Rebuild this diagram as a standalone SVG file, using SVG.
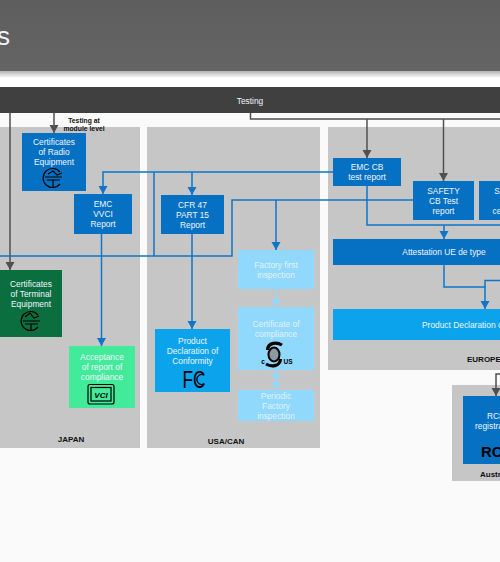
<svg xmlns="http://www.w3.org/2000/svg" width="500" height="562" viewBox="0 0 500 562">
<style>
text{font-family:"Liberation Sans",Arial,sans-serif;font-size:8.4px;fill:#eef6ff;text-anchor:middle}
.lb{font-size:8px;font-weight:bold;fill:#111}
.pale{fill:#e0f3ff}
.blue{fill:none;stroke:#0f75c8;stroke-width:1.5}
.gray{fill:none;stroke:#505050;stroke-width:1.5}
.lite{fill:none;stroke:#90d8fc;stroke-width:1.5}
.ic{fill:none;stroke:#000;stroke-width:1.2}
.mark{fill:#000;font-weight:bold}
</style>
<defs>
<linearGradient id="hd" x1="0" y1="0" x2="0" y2="1"><stop offset="0" stop-color="#5e5e5e"/><stop offset="1" stop-color="#646464"/></linearGradient>
<linearGradient id="sh" x1="0" y1="0" x2="0" y2="1"><stop offset="0" stop-color="#b0b0b0"/><stop offset="1" stop-color="#fff"/></linearGradient>
<marker id="ab" markerWidth="10" markerHeight="10" refX="9" refY="5" orient="auto" markerUnits="userSpaceOnUse"><path d="M1 .5L9 5L1 9.500Z" fill="#0f75c8"/></marker>
<marker id="ag" markerWidth="10" markerHeight="10" refX="9" refY="5" orient="auto" markerUnits="userSpaceOnUse"><path d="M1 .5L9 5L1 9.500Z" fill="#505050"/></marker>
<marker id="al" markerWidth="10" markerHeight="10" refX="9" refY="5" orient="auto-start-reverse" markerUnits="userSpaceOnUse"><path d="M1 .5L9 5L1 9.500Z" fill="#90d8fc"/></marker>
</defs>
<rect width="500" height="562" fill="#fafafa"/>
<rect y="72" width="500" height="15" fill="#fff"/>
<rect y="71" width="500" height="7" fill="url(#sh)"/>
<rect width="500" height="71" fill="url(#hd)"/>
<text x="-3" y="45" style="font-size:26px;text-anchor:start">s</text>
<g id="panels">
<rect x="0" y="127" width="140" height="321" fill="#c6c6c6"/>
<rect x="147" y="127" width="173" height="321" fill="#c6c6c6"/>
<rect x="328" y="127" width="172" height="243" fill="#c6c6c6"/>
<rect x="452" y="385" width="48" height="96" fill="#c6c6c6"/>
</g>
<g id="testing"><rect y="87" width="500" height="26" fill="#404040"/><text x="250" y="104">Testing</text></g>
<text class="lb" x="84" y="123" style="font-size:6.8px">Testing at</text>
<text class="lb" x="84" y="131" style="font-size:6.8px">module level</text>
<text class="lb" x="71" y="442">JAPAN</text>
<text class="lb" x="226" y="444">USA/CAN</text>
<text class="lb" x="467" y="362" style="text-anchor:start">EUROPE</text>
<text class="lb" x="480" y="477" style="text-anchor:start">Australia</text>
<g id="connectors">
<path class="gray" d="M10 113V270" marker-end="url(#ag)"/>
<path class="gray" d="M54 113V133" marker-end="url(#ag)"/>
<path class="gray" d="M250.500 113V119H500"/>
<path class="gray" d="M367 119V158" marker-end="url(#ag)"/>
<path class="gray" d="M443.500 119V181" marker-end="url(#ag)"/>
<path class="blue" d="M333 172H103V194" marker-end="url(#ab)"/>
<path class="blue" d="M192 172V195" marker-end="url(#ab)"/>
<path class="blue" d="M154 172V256"/>
<path class="blue" d="M0 256H232V200H413"/>
<path class="blue" d="M276 200V250" marker-end="url(#ab)"/>
<path class="blue" d="M101.500 234V346" marker-end="url(#ab)"/>
<path class="blue" d="M192 234V329" marker-end="url(#ab)"/>
<path class="blue" d="M367 186V225H500"/>
<path class="blue" d="M444 225V239" marker-end="url(#ab)"/>
<path class="blue" d="M444 265V287H485V309" marker-end="url(#ab)"/>
<path class="blue" d="M485 287V280.500H500"/>
<path class="lite" d="M276 289V307" marker-end="url(#al)"/>
<path class="lite" d="M276 370V390" marker-start="url(#al)" marker-end="url(#al)"/>
<path class="gray" d="M500 374H496V396" marker-end="url(#ag)"/>
</g>
<g id="cert-radio"><rect x="22" y="133" width="64" height="58" fill="#0670c2"/><text x="54" y="145">Certificates</text><text x="54" y="155">of Radio</text><text x="54" y="165">Equipment</text><path class="ic" d="M60 172A9.500 9.500 0 1 0 60 184"/><path class="ic" d="M45 177H62M47 180H60M53 180V187M48 174L53 171L57 175L62 173"/></g>
<g id="emc-vvci"><rect x="74" y="194" width="58" height="40" fill="#0670c2"/><text x="103" y="207">EMC</text><text x="103" y="217">VVCI</text><text x="103" y="227">Report</text></g>
<g id="cfr"><rect x="161" y="195" width="63" height="39" fill="#0670c2"/><text x="192.500" y="208">CFR 47</text><text x="192.500" y="218">PART 15</text><text x="192.500" y="228">Report</text></g>
<g id="cert-term"><rect x="0" y="270" width="62" height="67" fill="#0b6e3e"/><text x="31" y="287">Certificates</text><text x="31" y="297">of Terminal</text><text x="31" y="307">Equipment</text><path class="ic" d="M38 315A9.500 9.500 0 1 0 38 327"/><path class="ic" d="M23 321H40M25 324H38M31 324V330M25 317L30 313L34 318L39 316"/></g>
<g id="acceptance"><rect x="69" y="346" width="66" height="62" fill="#42ea9a"/><text x="102" y="360">Acceptance</text><text x="102" y="370">of report of</text><text x="102" y="380">compliance</text><rect x="88" y="384.500" width="26" height="19.500" rx="2" class="ic"/><rect x="91" y="387.500" width="20" height="13.500" class="ic"/><text class="mark" x="101" y="398" style="font-size:8px;font-style:italic">VCI</text></g>
<g id="pdoc"><rect x="155" y="329" width="75" height="63" fill="#0ba3ec"/><text x="192.500" y="344">Product</text><text x="192.500" y="354">Declaration of</text><text x="192.500" y="364">Conformity</text><text x="194" y="388" textLength="23" lengthAdjust="spacingAndGlyphs" style="fill:#000;font-size:23px">FC</text><path d="M204 375A5 5 0 1 0 204 384" fill="none" stroke="#000" stroke-width="1.3"/></g>
<g id="factory"><rect x="238" y="250" width="76" height="39" fill="#90d8fc"/><text class="pale" x="276" y="268">Factory first</text><text class="pale" x="276" y="278">inspection</text></g>
<g id="compliance"><rect x="238" y="307" width="76" height="63" fill="#90d8fc"/><text class="pale" x="276" y="327">Certificate of</text><text class="pale" x="276" y="337">compliance</text><ellipse cx="274" cy="354.500" rx="5.500" ry="7" fill="#8a9aa0" stroke="#000" stroke-width="2"/><path d="M282 345C277 342 268 342 267.500 350M266 364C271 367 280 367 280.500 359" fill="none" stroke="#000" stroke-width="3.200"/><text class="mark" x="263" y="364" style="font-size:6.500px">c</text><text class="mark" x="288" y="364" style="font-size:6.500px">US</text></g>
<g id="periodic"><rect x="238" y="390" width="76" height="31" fill="#90d8fc"/><text class="pale" x="276" y="399">Periodic</text><text class="pale" x="276" y="409">Factory</text><text class="pale" x="276" y="419">inspection</text></g>
<g id="emc-cb"><rect x="333" y="158" width="68" height="28" fill="#0670c2"/><text x="367" y="170">EMC CB</text><text x="367" y="180">test report</text></g>
<g id="safety"><rect x="413" y="181" width="61" height="39" fill="#0670c2"/><text x="443.500" y="194">SAFETY</text><text x="443.500" y="204">CB Test</text><text x="443.500" y="214">report</text></g>
<g id="s2"><rect x="479" y="181" width="21" height="39" fill="#0670c2"/><text x="497" y="194">S</text><text x="497" y="214">ce</text></g>
<g id="attestation"><rect x="333" y="239" width="167" height="26" fill="#0670c2"/><text x="444" y="255">Attestation UE de type</text></g>
<g id="pdoc-eu"><rect x="333" y="309" width="167" height="31" fill="#0ba3ec"/><text x="422" y="328" style="text-anchor:start">Product Declaration of</text></g>
<g id="rcm"><rect x="463" y="396" width="37" height="68" fill="#0670c2"/><text x="487" y="419" style="text-anchor:start">RCM</text><text x="475" y="429" style="text-anchor:start">registration</text><text class="mark" x="481" y="457" style="text-anchor:start;font-size:15px">RCM</text></g>
</svg>
